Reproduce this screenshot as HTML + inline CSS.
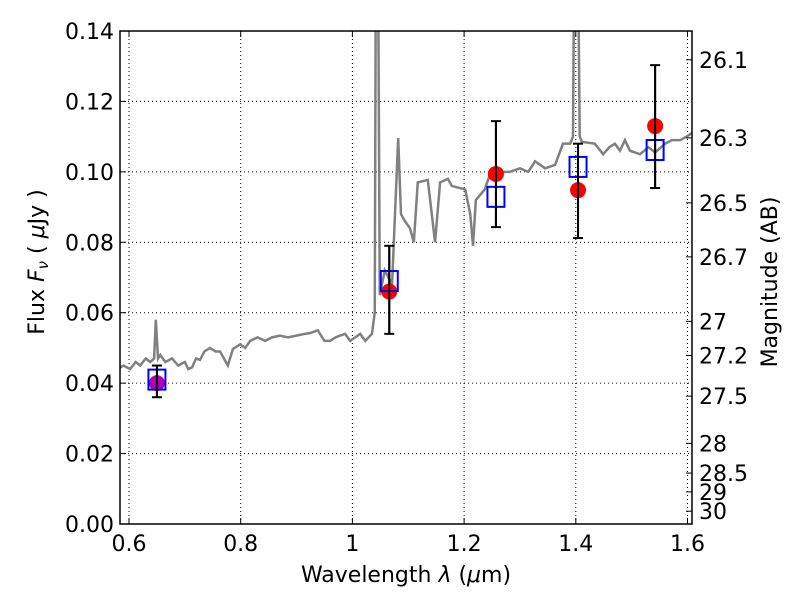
<!DOCTYPE html>
<html><head><meta charset="utf-8"><style>
body{margin:0;background:#fff}
svg text{font-family:"DejaVu Sans","Liberation Sans",sans-serif;fill:#000}
</style></head><body>
<svg id="c" width="800" height="600" xmlns="http://www.w3.org/2000/svg"></svg>
<script>
const specWave=[0.580,0.590,0.602,0.612,0.620,0.630,0.638,0.645,0.648,0.652,0.656,0.665,0.677,0.688,0.700,0.706,0.713,0.720,0.727,0.735,0.745,0.755,0.763,0.770,0.777,0.786,0.799,0.808,0.817,0.830,0.844,0.856,0.870,0.885,0.906,0.915,0.924,0.938,0.950,0.960,0.970,0.978,0.987,0.996,1.005,1.014,1.023,1.035,1.040,1.042,1.046,1.049,1.058,1.071,1.082,1.087,1.094,1.103,1.110,1.117,1.135,1.148,1.157,1.171,1.178,1.202,1.211,1.216,1.221,1.237,1.250,1.264,1.282,1.300,1.315,1.327,1.345,1.363,1.377,1.390,1.395,1.397,1.404,1.407,1.411,1.434,1.449,1.460,1.470,1.479,1.488,1.497,1.515,1.530,1.542,1.560,1.572,1.587,1.598,1.608];
const specFlux=[0.044,0.045,0.044,0.046,0.045,0.047,0.046,0.047,0.058,0.047,0.048,0.046,0.047,0.045,0.046,0.044,0.0445,0.047,0.0466,0.049,0.050,0.049,0.049,0.047,0.045,0.0497,0.051,0.050,0.052,0.053,0.052,0.053,0.0535,0.053,0.0537,0.054,0.0542,0.055,0.052,0.052,0.053,0.0535,0.054,0.052,0.053,0.054,0.052,0.054,0.06,0.16,0.16,0.065,0.072,0.068,0.1096,0.088,0.086,0.084,0.080,0.097,0.0977,0.080,0.097,0.098,0.096,0.095,0.088,0.079,0.092,0.095,0.101,0.100,0.100,0.101,0.100,0.103,0.101,0.102,0.108,0.108,0.11,0.16,0.16,0.11,0.1085,0.108,0.105,0.107,0.108,0.106,0.109,0.106,0.105,0.107,0.1055,0.108,0.109,0.109,0.110,0.111];
const obsWave=[0.650,1.066,1.257,1.404,1.542];
const obsFlux=[0.040,0.066,0.0994,0.0948,0.113];
const errLo=[0.036,0.054,0.0843,0.0812,0.0954];
const errHi=[0.045,0.079,0.1144,0.108,0.1303];
const modelFlux=[0.041,0.069,0.0929,0.1014,0.1062];
const xTicks=[0.6,0.8,1.0,1.2,1.4,1.6];
const xTickLabels=["0.6","0.8","1","1.2","1.4","1.6"];
const yTicks=[0,0.02,0.04,0.06,0.08,0.10,0.12,0.14];
const yTickLabels=["0.00","0.02","0.04","0.06","0.08","0.10","0.12","0.14"];
const magTicks=[26.1,26.3,26.5,26.7,27,27.2,27.5,28,28.5,29,30];
const magTickLabels=["26.1","26.3","26.5","26.7","27","27.2","27.5","28","28.5","29","30"];

const L=120,R=692,T=31,B=524;
const xs=v=>129+(v-0.6)*558.5;
const ys=v=>524-v*3521.5;
const NS="http://www.w3.org/2000/svg";
const svg=document.getElementById('c');
function mk(tag,attrs,parent){const e=document.createElementNS(NS,tag);for(const k in attrs)e.setAttribute(k,attrs[k]);(parent||svg).appendChild(e);return e;}
const defs=mk('defs',{});const cp=mk('clipPath',{id:'clip'},defs);mk('rect',{x:L,y:T,width:R-L,height:B-T},cp);

xTicks.forEach(v=>{const g=mk('line',{x1:xs(v),x2:xs(v),y1:T,y2:B,stroke:'#000','stroke-dasharray':'1,3','stroke-width':1});

});
yTicks.forEach(v=>{const g=mk('line',{x1:L,x2:R,y1:ys(v),y2:ys(v),stroke:'#000','stroke-dasharray':'1,3','stroke-width':1});

});

const sp=mk('polyline',{points:specWave.map((w,i)=>xs(w)+','+ys(specFlux[i])).join(' '),fill:'none',stroke:'#808080','stroke-width':2.5,'clip-path':'url(#clip)'});



obsWave.forEach((w,i)=>{
  const x=xs(w);
  const g=mk('g',{});
  
  
  mk('line',{x1:x,x2:x,y1:ys(errLo[i]),y2:ys(errHi[i]),stroke:'#000','stroke-width':2},g);
  mk('line',{x1:x-5,x2:x+5,y1:ys(errLo[i]),y2:ys(errLo[i]),stroke:'#000','stroke-width':2},g);
  mk('line',{x1:x-5,x2:x+5,y1:ys(errHi[i]),y2:ys(errHi[i]),stroke:'#000','stroke-width':2},g);
});
obsWave.forEach((w,i)=>{
  const c=mk('circle',{cx:xs(w),cy:ys(obsFlux[i]),r:8,fill:i==0?'#b000b0':'#f00'});
  
  
});
obsWave.forEach((w,i)=>{
  const s=mk('rect',{x:xs(w)-8.5,y:ys(modelFlux[i])-10,width:17,height:20,fill:'none',stroke:'#00f','stroke-width':2});
  
  
});
obsWave.forEach((w,i)=>{const x=xs(w);const l=mk('line',{x1:x,x2:x,y1:ys(errLo[i]),y2:ys(errHi[i]),stroke:'#000','stroke-width':2});

});

const fr=mk('rect',{x:L,y:T,width:R-L,height:B-T,fill:'none',stroke:'#000','stroke-width':1.5});



xTicks.forEach((v,i)=>{const x=xs(v);
  mk('line',{x1:x,x2:x,y1:B,y2:B-6,stroke:'#000'});mk('line',{x1:x,x2:x,y1:T,y2:T+6,stroke:'#000'});
  const t=mk('text',{x:x,y:B+27,'font-size':22,'text-anchor':'middle'});t.textContent=xTickLabels[i];
  
  });
yTicks.forEach((v,i)=>{const y=ys(v);
  mk('line',{x1:L,x2:L+6,y1:y,y2:y,stroke:'#000'});
  const t=mk('text',{x:L-6,y:y+8,'font-size':22,'text-anchor':'end'});t.textContent=yTickLabels[i];
  
  });
magTicks.forEach((m,i)=>{const f=Math.pow(10,(23.9-m)/2.5);const y=ys(f);
  mk('line',{x1:R,x2:R-6,y1:y,y2:y,stroke:'#000'});
  const t=mk('text',{x:R+7,y:y+8,'font-size':22});t.textContent=magTickLabels[i];
  
  });

const xl=mk('text',{x:406,y:582,'font-size':22,'text-anchor':'middle','xml:space':'preserve'});
xl.innerHTML='Wavelength  <tspan font-style="italic">λ</tspan> (<tspan font-style="italic">μ</tspan>m)';


const yl=mk('text',{x:0,y:0,'font-size':22,'text-anchor':'middle','xml:space':'preserve',transform:'translate(44,262) rotate(-90)'});
yl.innerHTML='Flux  <tspan font-style="italic">F</tspan><tspan font-style="italic" font-size="15" dy="4">ν</tspan><tspan dy="-4">  ( </tspan><tspan font-style="italic">μ</tspan>Jy )';


const rl=mk('text',{x:0,y:0,'font-size':22,'text-anchor':'middle',transform:'translate(777,282) rotate(-90)'});
rl.textContent='Magnitude (AB)';


</script>
</body></html>
